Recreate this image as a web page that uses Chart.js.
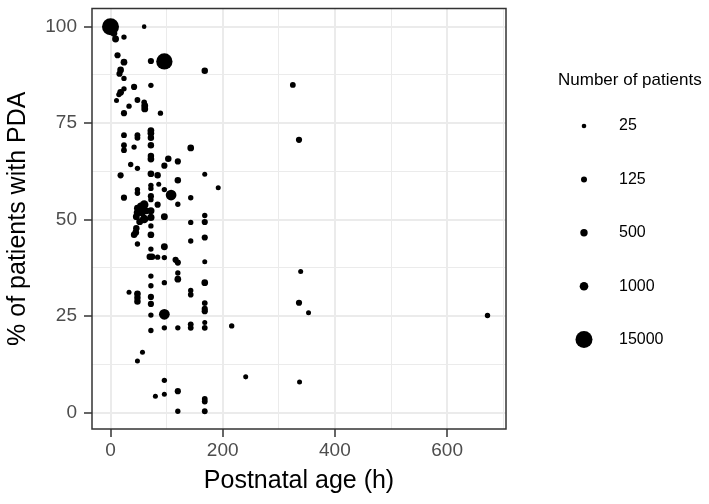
<!DOCTYPE html>
<html>
<head>
<meta charset="utf-8">
<script src="https://cdn.jsdelivr.net/npm/chart.js@4.4.0/dist/chart.umd.min.js"></script>
<style>
  body { margin: 0; background: #fff; }
  #wrap { width: 709px; height: 504px; }
</style>
</head>
<body>
<div id="wrap"><canvas id="pdaChart" width="709" height="504"></canvas></div>
<script>
// one entry per study: postnatal age (h), % with PDA, number of patients
const ages = [
  0, 60, 6, 9, 24, 12.5, 24, 72, 96, 168,
  18, 16, 24, 42, 72, 24, 18, 15, 10.7, 48,
  60, 33, 61, 61, 24, 89, 72, 72, 24, 48,
  48, 72, 24, 24, 42, 72, 143, 72, 72, 103,
  120, 36, 48, 96, 18, 72, 84, 168, 120, 72,
  72, 86, 192, 48, 48, 96, 108, 24, 72, 72,
  143, 60, 84, 120, 48, 54, 48, 56, 64, 72,
  46, 60, 72, 52, 96, 168, 143, 168, 72, 46,
  45, 42, 72, 48, 143, 168, 96, 72, 70, 74,
  84, 96, 116, 120, 168, 120, 72, 120, 96, 168,
  72, 33, 48, 48, 48, 143, 143, 72, 72, 168,
  168, 168, 72, 96, 168, 143, 143, 168, 120, 96,
  216, 72, 57, 48, 96, 120, 96, 80, 168, 168,
  120, 168, 325, 336, 339, 336, 353, 672, 241, 337
];
const pdaPct = [
  100, 100, 98.3, 96.8, 97.3, 92.6, 90.8, 91.1, 91, 88.6,
  88.8, 87.8, 86.6, 84.4, 84.8, 83.9, 83, 82.4, 80.9, 81,
  80.4, 79.4, 79.5, 78.7, 77.6, 77.6, 73.1, 72.4, 71.9, 71.9,
  71.2, 71.2, 69.3, 68, 68.8, 69.3, 68.6, 66.5, 65.7, 65.8,
  65.1, 64.3, 63.3, 64, 61.5, 61.9, 61.5, 61.8, 60.2, 58.9,
  58.1, 59.2, 58.3, 57.8, 56.9, 57.8, 56.4, 55.7, 56.1, 55.2,
  55.7, 53.9, 53.9, 54, 53, 53.5, 51.8, 52, 52.3, 52.3,
  50.8, 50.2, 50.6, 49.5, 50.8, 51.1, 49.3, 49.4, 48.4, 47.8,
  46.7, 46.1, 46.1, 43.7, 44.5, 45.4, 43, 42.4, 40.4, 40.4,
  40.3, 40.2, 39.6, 38.9, 39.1, 36.2, 35.4, 34.6, 33.7, 33.7,
  32.9, 31.2, 30.8, 29.8, 28.8, 31.7, 30.6, 30, 28.2, 28.4,
  26.9, 26.3, 25.3, 25.5, 23.4, 22.9, 22, 22, 22, 22,
  22.5, 21.3, 15.7, 13.4, 8.4, 5.6, 4.8, 4.3, 3.6, 2.9,
  0.4, 0.4, 84.9, 70.7, 36.6, 28.5, 25.9, 25.2, 9.3, 8
];
const patients = [
  15000, 25, 300, 300, 60, 150, 250, 150, 12000, 200,
  250, 150, 60, 150, 60, 60, 250, 60, 40, 100,
  80, 60, 300, 300, 150, 60, 250, 250, 100, 100,
  100, 200, 100, 100, 60, 200, 250, 200, 250, 200,
  150, 60, 60, 150, 150, 250, 200, 40, 200, 60,
  60, 40, 40, 60, 80, 60, 2000, 150, 150, 60,
  60, 1000, 150, 60, 300, 500, 500, 1000, 300, 400,
  300, 1000, 400, 300, 300, 60, 60, 150, 60, 200,
  250, 200, 250, 60, 60, 150, 300, 60, 200, 200,
  60, 60, 150, 150, 40, 60, 60, 250, 60, 250,
  60, 40, 250, 200, 200, 60, 80, 150, 150, 100,
  150, 150, 60, 2000, 40, 100, 100, 100, 60, 60,
  60, 60, 40, 40, 60, 150, 40, 40, 100, 100,
  60, 100, 100, 150, 40, 150, 40, 60, 40, 40
];

const xTicks = [0, 100, 200, 300, 400, 500, 600, 700];
const xLabels = [0, 200, 400, 600];
const yTicks = [0, 12.5, 25, 37.5, 50, 62.5, 75, 87.5, 100];
const yLabels = [0, 25, 50, 75, 100];
const legendSizes = [25, 125, 500, 1000, 15000];

// size scale (radius in px at each legend break)
const legendRadii = [2.3, 3, 3.7, 4.3, 8.5];
const FONT = '"Liberation Sans", Arial, sans-serif';

function sizeToRadius(n) {
  const l = Math.log(n);
  const last = legendSizes.length - 2;
  for (let i = 0; i <= last; i++) {
    const a = Math.log(legendSizes[i]), b = Math.log(legendSizes[i + 1]);
    if (l <= b || i === last) {
      const t = (l - a) / (b - a);
      return Math.max(1.8, legendRadii[i] + t * (legendRadii[i + 1] - legendRadii[i]));
    }
  }
}

const points = ages.map((a, i) => ({ x: a, y: pdaPct[i], n: patients[i] }));

const panelBorder = {
  id: 'panelBorder',
  afterDatasetsDraw(chart) {
    const { ctx, chartArea: c } = chart;
    ctx.save();
    ctx.strokeStyle = '#333333';
    ctx.lineWidth = 1.5;
    ctx.strokeRect(c.left, c.top, c.right - c.left, c.bottom - c.top);
    ctx.restore();
  }
};

const sizeLegend = {
  id: 'sizeLegend',
  afterDraw(chart) {
    const ctx = chart.ctx;
    ctx.save();
    ctx.fillStyle = '#000';
    ctx.textBaseline = 'middle';
    ctx.textAlign = 'left';
    ctx.font = '17px ' + FONT;
    ctx.fillText('Number of patients', 558, 80);
    ctx.font = '16px ' + FONT;
    legendSizes.forEach((n, i) => {
      const y = 126 + i * 53.4;
      ctx.beginPath();
      ctx.arc(584, y, sizeToRadius(n), 0, Math.PI * 2);
      ctx.fill();
      ctx.fillText(String(n), 619, y);
    });
    ctx.restore();
  }
};

const isMajor = (list, v) => list.includes(v);

new Chart(document.getElementById('pdaChart'), {
  type: 'scatter',
  data: {
    datasets: [{
      data: points,
      backgroundColor: '#000',
      borderWidth: 0,
      pointRadius: ctx => sizeToRadius(ctx.raw.n),
      pointHoverRadius: ctx => sizeToRadius(ctx.raw.n)
    }]
  },
  options: {
    responsive: false,
    animation: false,
    layout: { padding: { top: 7, right: 203, left: 0, bottom: 0 } },
    plugins: { legend: { display: false }, tooltip: { enabled: false } },
    scales: {
      x: {
        type: 'linear',
        min: -33,
        max: 705,
        afterBuildTicks: s => { s.ticks = xTicks.map(v => ({ value: v })); },
        afterFit: s => { s.height = 75; s.paddingLeft = 0; s.paddingRight = 0; },
        ticks: {
          autoSkip: false,
          maxRotation: 0,
          padding: 2,
          color: '#4D4D4D',
          font: { family: FONT, size: 19 },
          callback: v => isMajor(xLabels, v) ? String(v) : ''
        },
        grid: {
          color: '#EBEBEB',
          lineWidth: c => isMajor(xLabels, c.tick.value) ? 2 : 1,
          tickLength: 8,
          tickColor: c => isMajor(xLabels, c.tick.value) ? '#333333' : 'rgba(0,0,0,0)',
          tickWidth: 1.5
        },
        border: { display: false },
        title: {
          display: true,
          text: 'Postnatal age (h)',
          color: '#000',
          font: { family: FONT, size: 25 },
          padding: { top: 0, bottom: 8 }
        }
      },
      y: {
        type: 'linear',
        min: -4.2,
        max: 104.7,
        afterBuildTicks: s => { s.ticks = yTicks.map(v => ({ value: v })); },
        afterFit: s => { s.width = 92; s.paddingTop = 0; s.paddingBottom = 0; },
        ticks: {
          autoSkip: false,
          padding: 7,
          color: '#4D4D4D',
          font: { family: FONT, size: 19 },
          callback: v => isMajor(yLabels, v) ? String(v) : ''
        },
        grid: {
          color: '#EBEBEB',
          lineWidth: c => isMajor(yLabels, c.tick.value) ? 2 : 1,
          tickLength: 8,
          tickColor: c => isMajor(yLabels, c.tick.value) ? '#333333' : 'rgba(0,0,0,0)',
          tickWidth: 1.5
        },
        border: { display: false },
        title: {
          display: true,
          text: '% of patients with PDA',
          color: '#000',
          font: { family: FONT, size: 25 },
          padding: { top: 3, bottom: 0 }
        }
      }
    }
  },
  plugins: [panelBorder, sizeLegend]
});
</script>
</body>
</html>
